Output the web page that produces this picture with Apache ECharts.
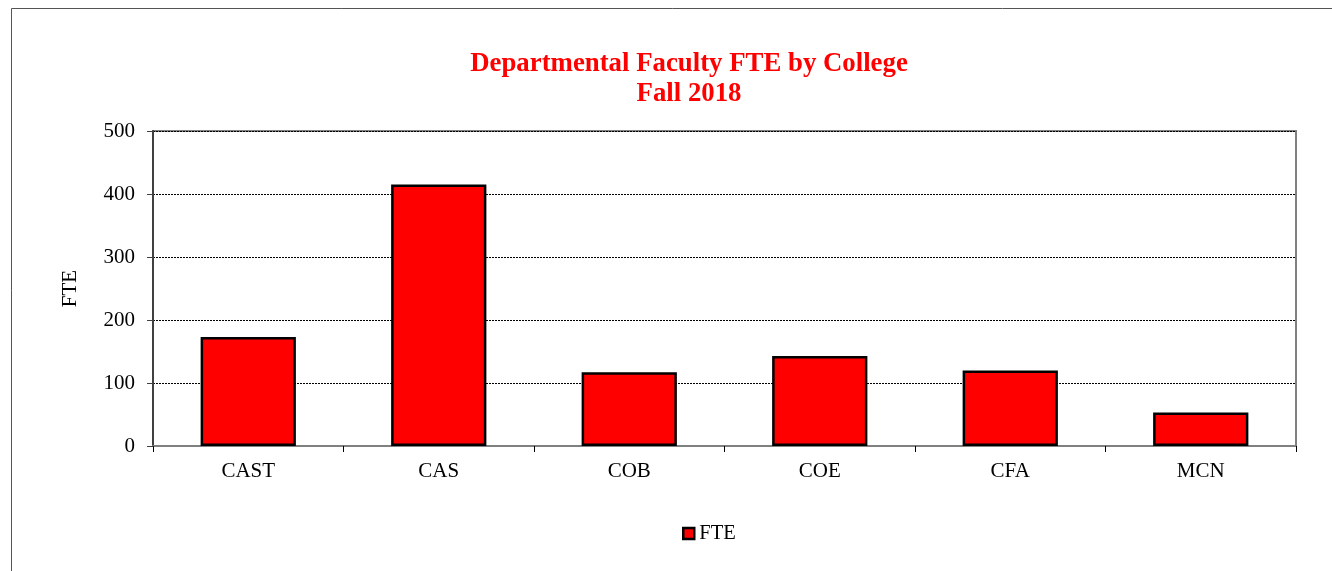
<!DOCTYPE html>
<html>
<head>
<meta charset="utf-8">
<script src="https://cdn.jsdelivr.net/npm/echarts@6/dist/echarts.min.js"></script>
<style>
  html, body { margin: 0; padding: 0; background: #fff; }
  #chart { width: 1332px; height: 571px; }
</style>
</head>
<body>
<div id="chart"></div>
<script>
// chart data
const colleges = ['CAST', 'CAS', 'COB', 'COE', 'CFA', 'MCN'];
const fteValues = [173, 415, 117, 143, 120, 53];
const yTicks = [0, 100, 200, 300, 400, 500];

const serif = '"Liberation Serif", "Times New Roman", serif';

const chart = echarts.init(document.getElementById('chart'));

chart.setOption({
    backgroundColor: '#fff',
    animation: false,
    title: {
        text: 'Departmental Faculty FTE by College\nFall 2018',
        left: 684,
        textAlign: 'center',
        top: 44,
        textStyle: {
            color: '#ff0000',
            fontFamily: serif,
            fontSize: 26.8,
            fontWeight: 'bold',
            lineHeight: 30
        }
    },
    graphic: [
        {
            type: 'rect',
            shape: { x: 11.5, y: 8.5, width: 1340, height: 580 },
            style: { fill: 'none', stroke: '#555', lineWidth: 1 },
            silent: true
        }
    ],
    legend: {
        data: ['FTE'],
        bottom: 22,
        left: 677,
        icon: 'rect',
        itemWidth: 11,
        itemHeight: 11,
        itemGap: 3,
        itemStyle: { borderColor: '#000', borderWidth: 2.5 },
        textStyle: { fontFamily: serif, fontSize: 20.5, color: '#000', padding: [2, 0, 0, 0] }
    },
    grid: {
        left: 153,
        right: 36,
        top: 131,
        bottom: 125,
        show: true,
        borderColor: '#808080',
        borderWidth: 2
    },
    xAxis: {
        type: 'category',
        data: colleges,
        axisLine: { lineStyle: { color: '#808080', width: 2 } },
        axisTick: { show: true, length: 6, lineStyle: { color: '#000' } },
        axisLabel: { fontFamily: serif, fontSize: 21, color: '#000', margin: 15 }
    },
    yAxis: {
        type: 'value',
        name: 'FTE',
        nameLocation: 'middle',
        nameGap: 72,
        nameTextStyle: { fontFamily: serif, fontSize: 21, color: '#000' },
        min: yTicks[0],
        max: yTicks[yTicks.length - 1],
        interval: 100,
        axisLine: { show: true, lineStyle: { color: '#404040', width: 2 } },
        axisTick: { show: true, length: 6, lineStyle: { color: '#404040' } },
        axisLabel: { fontFamily: serif, fontSize: 21, color: '#000', margin: 18 },
        splitLine: { show: true, lineStyle: { color: '#000', type: [2, 1], width: 1 } }
    },
    series: [
        {
            name: 'FTE',
            type: 'bar',
            data: fteValues,
            barWidth: '50%',
            itemStyle: {
                color: '#ff0000',
                borderColor: '#000',
                borderWidth: 2.5
            }
        }
    ]
});
</script>
</body>
</html>
